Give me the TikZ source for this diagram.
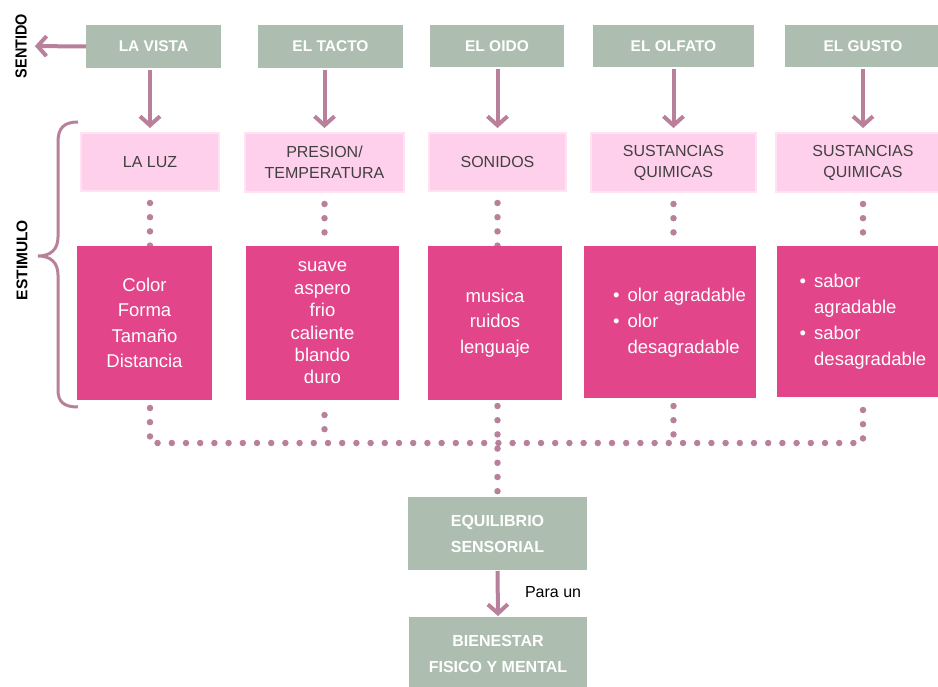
\documentclass[tikz,border=0pt]{standalone}
\usepackage{fontspec}
\setmainfont{Liberation Sans}
\usetikzlibrary{arrows.meta,backgrounds}
\definecolor{sage}{HTML}{ADBEB0}
\definecolor{lpink}{HTML}{FFD0EC}
\definecolor{lpinkedge}{HTML}{FFE3F3}
\definecolor{dpink}{HTML}{E2458A}
\definecolor{mauve}{HTML}{B8809B}
\definecolor{txtgrey}{HTML}{404040}
\begin{document}
\begin{tikzpicture}[x=1pt,y=-1pt,
 box/.style={rectangle, inner sep=0pt, outer sep=0pt, anchor=north west, align=center},
 sensebox/.style={box, fill=sage, text=white, font=\fontsize{15.5}{26}\selectfont\bfseries},
 stimbox/.style={box, fill=lpink, draw=lpinkedge, line width=1.5pt, text=txtgrey, font=\fontsize{16}{21}\selectfont},
 detbox/.style={box, fill=dpink, text=white, font=\fontsize{18.5}{25.5}\selectfont},
 arr/.style={draw=mauve, line width=4pt, -{Straight Barb[length=9pt,width=20pt]}},
 dots/.style={draw=mauve, line width=6.5pt, line cap=round, dash pattern=on 0pt off 14.2pt},
 side/.style={font=\fontsize{16}{18}\selectfont\bfseries, rotate=90, inner sep=2pt}
]
\useasboundingbox (0,0) rectangle (938,687);
\clip (0,0) rectangle (938,687);

% sentidos
\node[sensebox, minimum width=135pt, minimum height=43pt] (t1) at (86,25) {LA VISTA};
\node[sensebox, minimum width=145pt, minimum height=43pt] (t2) at (258,25) {EL TACTO};
\node[sensebox, minimum width=134pt, minimum height=42pt] (t3) at (430,25) {EL OIDO};
\node[sensebox, minimum width=161pt, minimum height=42pt] (t4) at (593,25) {EL OLFATO};
\node[sensebox, minimum width=156pt, minimum height=42pt] (t5) at (785,25) {EL GUSTO};

% estimulos
\node[stimbox, minimum width=138pt, minimum height=58pt] (l1) at (81,133) {LA LUZ};
\node[stimbox, minimum width=159pt, minimum height=59pt] (l2) at (245,133) {PRESION/\\TEMPERATURA};
\node[stimbox, minimum width=137pt, minimum height=58pt] (l3) at (429,133) {SONIDOS};
\node[stimbox, minimum width=165pt, minimum height=59pt] (l4) at (591,133) {SUSTANCIAS\\QUIMICAS};
\node[stimbox, minimum width=174pt, minimum height=59pt] (l5) at (776,133) {SUSTANCIAS\\QUIMICAS};

% detalles
\node[detbox, minimum width=135pt, minimum height=154pt] (d1) at (77,246) {Color\\Forma\\Tamaño\\Distancia};
\node[detbox, minimum width=153pt, minimum height=154pt, font=\fontsize{18.5}{22.4}\selectfont] (d2) at (246,246) {suave\\aspero\\frio\\caliente\\blando\\duro};
\node[detbox, minimum width=134pt, minimum height=154pt] (d3) at (428,246) {musica\\ruidos\\lenguaje};
\node[detbox, minimum width=172pt, minimum height=152pt, font=\fontsize{18.5}{26}\selectfont] (d4) at (584,246)
  {\hspace*{19pt}\begin{tabular}{@{}l@{\hspace{8pt}}l@{}}\textbullet & olor agradable\\ \textbullet & olor\\ & desagradable\end{tabular}};
\node[detbox, minimum width=172pt, minimum height=151pt, font=\fontsize{18.5}{26}\selectfont] (d5) at (777,246)
  {\begin{tabular}{@{}l@{\hspace{8pt}}l@{}}\textbullet & sabor\\ & agradable\\ \textbullet & sabor\\ & desagradable\end{tabular}};

% resultado
\node[sensebox, minimum width=179pt, minimum height=73pt, font=\fontsize{16}{26}\selectfont\bfseries] (eq) at (408,497) {EQUILIBRIO\\SENSORIAL};
\node[sensebox, minimum width=178pt, minimum height=73pt, font=\fontsize{16}{26}\selectfont\bfseries] (bien) at (409,617) {BIENESTAR\\FISICO Y MENTAL};

% etiquetas laterales
\node[side] (sentido) at (21,46) {\scalebox{0.9}[1]{SENTIDO}};
\node[side, font=\fontsize{15.5}{18}\selectfont\bfseries] (estimulo) at (22,260) {ESTIMULO};
\draw[draw=mauve, line width=3pt] (78,122) .. controls (64,122) and (58,128) .. (58,142) -- (58,237)
  .. controls (58,250) and (50,256) .. (38,256) .. controls (50,256) and (58,262) .. (58,275)
  -- (58,390) .. controls (58,402) and (64,407) .. (78,407);

% flechas
\draw[arr, shorten >=6pt] (t1.west) -- (sentido.south);
\foreach \i in {1,...,5}{
  \draw[arr, shorten <=2pt, shorten >=5pt] (t\i.south -| l\i.north) -- (l\i.north);
}
\draw[arr, shorten <=1pt, shorten >=1pt] (eq.south) -- node[pos=0.47, right=22pt, font=\fontsize{16}{20}\selectfont, text=black] (paraun) {Para un} (bien.north);

% punteados
\coordinate (hl) at (0,443);
\foreach \i in {1,...,5}{
  \coordinate (j\i) at (l\i.south |- hl);
}
\begin{scope}[on background layer]
\foreach \i in {1,...,5}{
  \draw[dots, shorten <=12pt] (l\i.south) -- (l\i.south |- d\i.north);
}
\draw[dots, shorten <=8pt, shorten >=8pt] (l1.south |- d1.south) -- (j1) -- (j5) -- (l5.south |- d5.south);
\draw[dots, shorten <=15pt] (l2.south |- d2.south) -- (j2);
\draw[dots, shorten <=6pt] (l3.south |- d3.south) -- (l3.south |- eq.north);
\draw[dots, shorten <=8pt] (l4.south |- d4.south) -- (j4);
\end{scope}
\end{tikzpicture}
\end{document}
